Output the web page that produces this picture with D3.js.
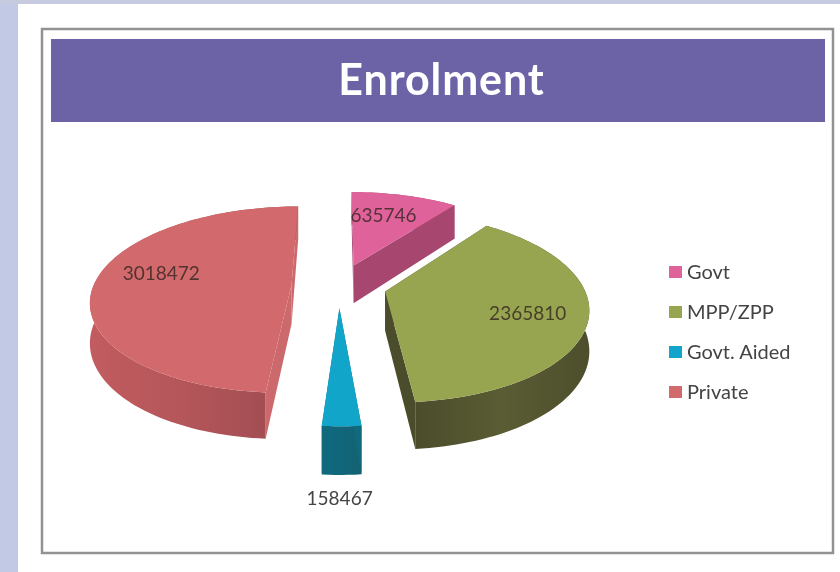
<!DOCTYPE html>
<html>
<head>
<meta charset="utf-8">
<script src="https://d3js.org/d3.v7.min.js"></script>
<style>
    html, body { margin: 0; padding: 0; background: #fff; }
    svg { display: block; filter: blur(0.6px); }
    text { font-family: Lato, "Open Sans", sans-serif; }
</style>
</head>
<body>
<svg class="chart" width="840" height="572"></svg>
<script>
const title = "Enrolment";
const categories = ["Govt", "MPP/ZPP", "Govt. Aided", "Private"];
const values = [635746, 2365810, 158467, 3018472];

const topColors = ["#E0629A", "#98A550", "#12A5CA", "#D2696D"];
const sideColors = ["#A7466F", "#4B4C2B", "#106A7C", "#CB696D"];
const rimStops = [
    ["#A7466F", "#A7466F"],
    ["#4B4C2B", "#5A5C34", "#4D4E2C"],
    ["#0F6A80", "#136272"],
    ["#C25C60", "#B25559", "#9C4B51"]
];

// where each value label sits on its slice: share of the slice's sweep, share of the radius
const labelSweep = [0.42, 0.52, 0.5, 0.55];
const labelRadius = [0.67, 0.715, 1, 0.69];

// projection of the tilted pie
const cx = 339, cy = 285.5;
const scaleX = 198, scaleY = 91, depth = 39;
const perspective = 0.16;
const explode = 0.24;

const svg = d3.select(".chart");

// page and frame
svg.append("rect").attr("width", 840).attr("height", 572).attr("fill", "#fff");
svg.append("rect").attr("width", 18).attr("height", 572).attr("fill", "#C2C9E4");
svg.append("rect").attr("width", 840).attr("height", 4).attr("fill", "#C6CBE0");
svg.append("rect")
    .attr("x", 42).attr("y", 29).attr("width", 791).attr("height", 524)
    .attr("fill", "#fff").attr("stroke", "#929292").attr("stroke-width", 2.5);
svg.append("rect")
    .attr("x", 51).attr("y", 39).attr("width", 774).attr("height", 83)
    .attr("fill", "#6C63A6");
svg.append("text")
    .attr("x", 441.5).attr("y", 95)
    .attr("text-anchor", "middle")
    .attr("fill", "#fff")
    .style("font-weight", 700)
    .style("font-size", "43px")
    .style("letter-spacing", "0.9px")
    .text(title);

// x,y on the pie's plane -> screen
function project(x, y, low) {
    const w = 1 + perspective * y;
    return [cx + scaleX * x / w, cy + ((low ? depth : 0) - scaleY * y) / w];
}

const slices = d3.pie().sort(null)(values).map((s, i) => {
    const mid = (s.startAngle + s.endAngle) / 2;
    return {
        i,
        start: s.startAngle,
        end: s.endAngle,
        ox: explode * Math.sin(mid),
        oy: explode * Math.cos(mid)
    };
});

function point(s, angle, r, low) {
    return project(s.ox + r * Math.sin(angle), s.oy + r * Math.cos(angle), low);
}

function rimAngles(s) {
    const n = Math.max(2, Math.ceil((s.end - s.start) / 0.03));
    return d3.range(n + 1).map(k => s.start + (s.end - s.start) * k / n);
}

const poly = d3.line();
const defs = svg.append("defs");

// back to front: Govt, Private, MPP/ZPP, Govt. Aided
const drawOrder = [0, 3, 1, 2];

drawOrder.forEach(i => {
    const s = slices[i];
    const g = svg.append("g").attr("class", "slice");
    const angles = rimAngles(s);
    const rimTop = angles.map(a => point(s, a, 1, false));
    const rimLow = angles.map(a => point(s, a, 1, true)).reverse();

    // the rim shades across its own width
    const xs = d3.extent(rimTop, p => p[0]);
    const grad = defs.append("linearGradient")
        .attr("id", "rim" + i)
        .attr("gradientUnits", "userSpaceOnUse")
        .attr("x1", xs[0]).attr("x2", xs[1])
        .attr("y1", 0).attr("y2", 0);
    rimStops[i].forEach((c, k, all) => {
        grad.append("stop")
            .attr("offset", k / (all.length - 1))
            .attr("stop-color", c);
    });

    g.append("path")
        .attr("d", poly(rimTop.concat(rimLow)) + "Z")
        .attr("fill", "url(#rim" + i + ")");

    // the two cut faces
    [s.start, s.end].forEach(a => {
        const face = [
            point(s, a, 0, false), point(s, a, 1, false),
            point(s, a, 1, true), point(s, a, 0, true)
        ];
        g.append("path")
            .attr("d", poly(face) + "Z")
            .attr("fill", sideColors[i]);
    });

    g.append("path")
        .attr("d", poly([point(s, 0, 0, false)].concat(rimTop)) + "Z")
        .attr("fill", topColors[i]);
});

// value labels
slices.forEach(s => {
    const a = s.start + (s.end - s.start) * labelSweep[s.i];
    // thin slice label goes under its rim, the others sit on top of the slice
    const outside = labelRadius[s.i] >= 1;
    const p = point(s, a, labelRadius[s.i], outside);
    svg.append("text")
        .attr("class", "value")
        .attr("x", p[0] - (outside ? 2 : 0))
        .attr("y", p[1] + (outside ? 23 : 0))
        .attr("dy", "0.35em")
        .attr("text-anchor", "middle")
        .attr("fill", outside ? "#444" : "#33261f")
        .attr("fill-opacity", outside ? 1 : 0.8)
        .style("font-size", "19px")
        .text(values[s.i]);
});

// legend
const legendY = d3.scalePoint().domain(categories).range([272, 392]);
const legend = svg.append("g").attr("class", "legend")
    .selectAll("g").data(categories).join("g")
    .attr("transform", d => "translate(669," + legendY(d) + ")");
legend.append("rect")
    .attr("y", -6).attr("width", 13).attr("height", 12)
    .attr("fill", (d, i) => topColors[i]);
legend.append("text")
    .attr("x", 18).attr("dy", "0.35em")
    .attr("fill", "#444")
    .style("font-size", "20px")
    .text(d => d);
</script>
</body>
</html>
